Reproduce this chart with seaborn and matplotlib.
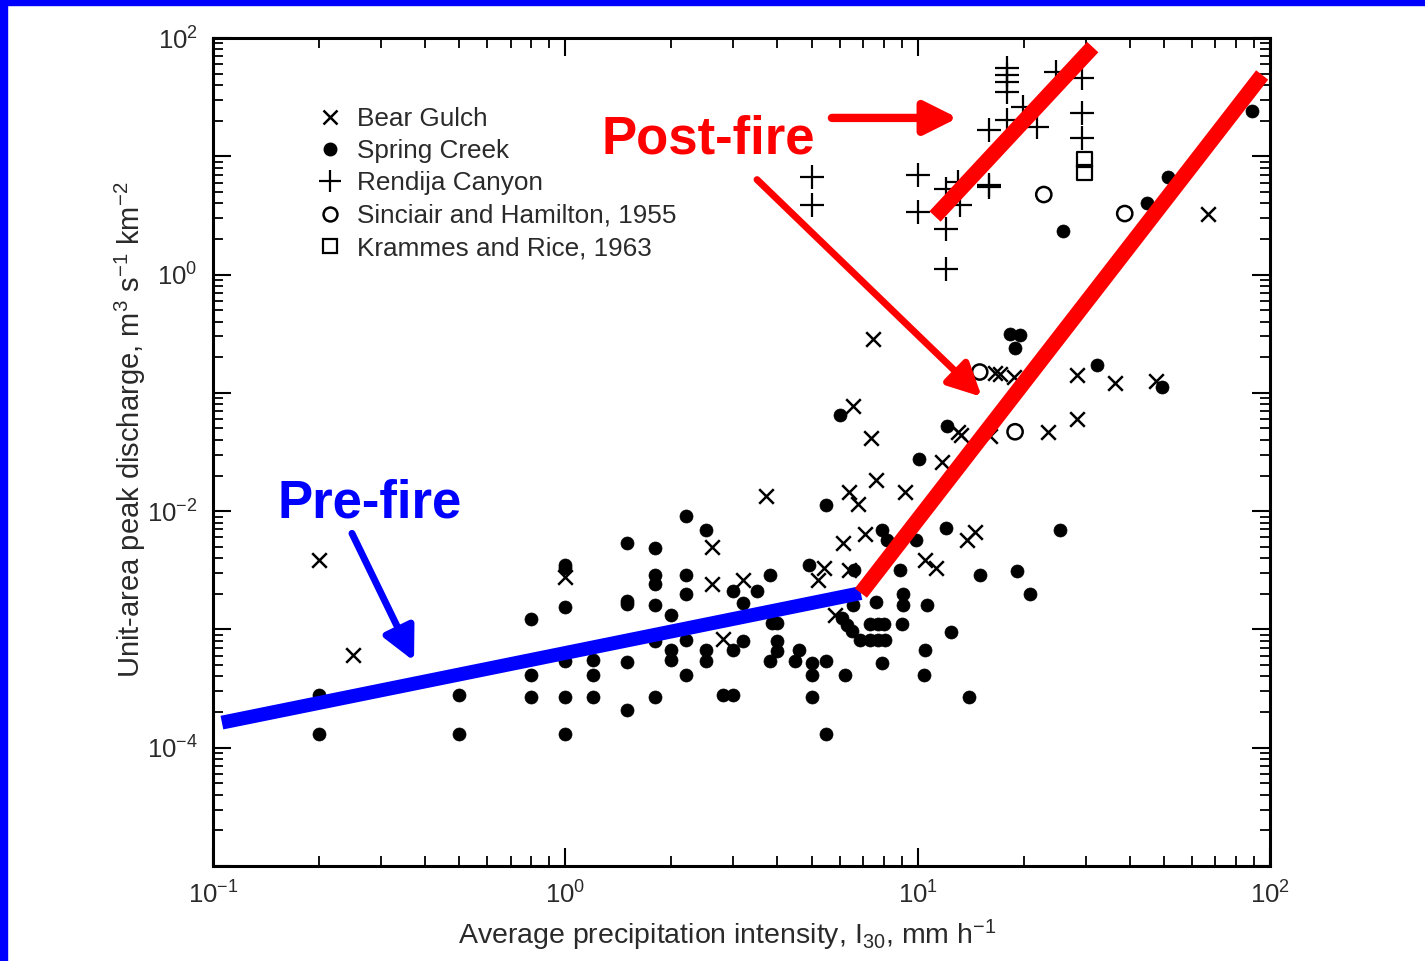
import matplotlib
matplotlib.use("Agg")
import matplotlib.pyplot as plt
import matplotlib.ticker as mticker
from matplotlib.lines import Line2D
from matplotlib.patches import Rectangle
import seaborn as sns
import numpy as np

# ---------------- data ----------------
bear_x = [0.2, 0.25, 1.0, 2.6, 2.6, 3.2, 2.8, 3.7, 7.46, 6.55, 7.36, 6.4, 6.76, 7.61,
          9.2, 6.13, 7.08, 5.42, 5.21, 5.82, 6.4, 11.7, 13.0, 13.3, 10.5, 11.3, 13.8,
          14.5, 16.6, 17.1, 18.8, 23.4, 28.3, 28.3, 36.3, 47.4, 66.7, 16.0]
bear_y = [0.0039, 0.00061, 0.0028, 0.0050, 0.0024, 0.0026, 0.00083, 0.0133, 0.285,
          0.0777, 0.0418, 0.0144, 0.0114, 0.0185, 0.0144, 0.0054, 0.0064, 0.0033,
          0.0026, 0.00132, 0.0032, 0.0262, 0.0469, 0.0443, 0.0039, 0.0033, 0.0057,
          0.0067, 0.147, 0.144, 0.136, 0.0469, 0.142, 0.060, 0.121, 0.126, 3.28, 0.043]

spring_x = [0.2, 0.2, 0.5, 0.5,
            0.8, 0.8, 0.8,
            1.0, 1.0, 1.0, 1.0, 1.0, 1.0,
            1.2, 1.2, 1.2,
            1.5, 1.5, 1.5, 1.5, 1.5,
            1.8, 1.8, 1.8, 1.8, 1.8, 1.8,
            2.0, 2.0, 2.0,
            2.2, 2.2, 2.2, 2.2, 2.2,
            2.5, 2.5, 2.5,
            2.8, 3.0, 3.0, 3.0, 3.5, 3.2, 3.2, 3.8,
            3.85, 4.0, 4.0, 3.98, 3.8, 4.6, 4.5, 5.0, 5.0, 5.0, 4.9, 5.5, 5.5, 6.2, 5.5,
            6.0, 6.6, 7.9, 8.9, 9.1, 9.1, 9.05, 10.6,
            7.3, 7.7, 8.0, 6.85, 7.3, 7.7, 8.1,
            6.5, 6.3, 6.1, 7.6, 6.55, 7.9, 10.4, 10.5, 12.4, 14.0, 15.0, 19.1, 20.8,
            12.0, 25.3, 9.9, 8.2, 10.1, 12.1, 18.3, 19.5, 18.9, 32.3, 49.3,
            25.8, 44.7, 51.3, 88.9]
spring_y = [0.00028, 0.000131, 0.00028, 0.000131,
            0.00122, 0.00041, 0.00027,
            0.0035, 0.0033, 0.00155, 0.00054, 0.00027, 0.000131,
            0.00055, 0.00041, 0.00027,
            0.0054, 0.00173, 0.00164, 0.00053, 0.00021,
            0.0049, 0.0029, 0.0024, 0.00161, 0.0008, 0.00027,
            0.00132, 0.00067, 0.00055,
            0.0091, 0.0029, 0.0020, 0.00081, 0.00041,
            0.0069, 0.00067, 0.00054,
            0.00028, 0.0021, 0.00067, 0.00028, 0.0021, 0.00167, 0.0008, 0.0029,
            0.00113, 0.00113, 0.0008, 0.00066, 0.00054, 0.00067, 0.00054, 0.00052,
            0.00041, 0.00027, 0.0035, 0.00054, 0.0112, 0.00041, 0.000131,
            0.0653, 0.0032, 0.0069, 0.0032, 0.0020, 0.0016, 0.00111, 0.0016,
            0.00111, 0.00111, 0.00111, 0.00081, 0.00081, 0.00081, 0.00081,
            0.00097, 0.00109, 0.00125, 0.0017, 0.0016, 0.00052, 0.00041, 0.00067,
            0.00095, 0.00027, 0.0029, 0.0031, 0.0020,
            0.0072, 0.0069, 0.0057, 0.0057, 0.0278, 0.0527, 0.315, 0.308, 0.239,
            0.172, 0.112,
            2.32, 3.99, 6.73, 24.2]

rendija_x = [5.0, 5.0, 10.0, 10.0, 12.0, 12.0, 12.0, 13.0, 13.2, 15.9, 15.9, 15.9,
             17.9, 17.9, 17.9, 17.9, 17.9, 19.9, 21.8, 24.7, 29.2, 29.2, 29.2]
rendija_y = [6.73, 3.84, 7.0, 3.35, 5.33, 2.45, 1.11, 6.1, 3.91, 16.8, 5.76, 5.54,
             55.8, 48.7, 42.5, 35.0, 20.3, 26.2, 17.7, 51.6, 45.9, 23.3, 14.3]

sinclair_x = [15.0, 18.9, 22.8, 38.7]
sinclair_y = [0.150, 0.0469, 4.75, 3.28]

krammes_x = [29.8, 29.8]
krammes_y = [9.37, 7.28]

legend_labels = ["Bear Gulch", "Spring Creek", "Rendija Canyon",
                 "Sinciair and Hamilton, 1955", "Krammes and Rice, 1963"]

# annotation trend lines (data coords)
prefire_line_x = [0.106, 6.9]
prefire_line_y = [0.000163, 0.00203]
postfire_line_x = [6.9, 95.0]
postfire_line_y = [0.00203, 48.7]
rendija_line_x = [11.2, 31.4]
rendija_line_y = [3.10, 83.8]

# ---------------- style ----------------
sns.set_theme(style="white")
plt.rcParams['font.family'] = ['Liberation Sans', 'DejaVu Sans']
plt.rcParams['mathtext.fontset'] = 'custom'
plt.rcParams['mathtext.rm'] = 'Liberation Sans'
plt.rcParams['mathtext.it'] = 'Liberation Sans:italic'
plt.rcParams['mathtext.bf'] = 'Liberation Sans:bold'

W, H = 1425, 961
fig = plt.figure(figsize=(W / 100, H / 100), dpi=100)
fig.patch.set_facecolor('white')
ax = fig.add_axes([213 / W, 1 - 866 / H, (1270 - 213) / W, (866 - 38) / H])

txt_color = '#2a2a2a'

sns.scatterplot(x=spring_x, y=spring_y, ax=ax, marker='o', s=88, color='black',
                edgecolor='black', linewidth=0.5, zorder=3)
sns.scatterplot(x=bear_x, y=bear_y, ax=ax, marker='x', s=110, color='black',
                linewidth=1.8, zorder=3)
sns.scatterplot(x=rendija_x, y=rendija_y, ax=ax, marker='+', s=280, color='black',
                linewidth=1.6, zorder=3)
sns.scatterplot(x=sinclair_x, y=sinclair_y, ax=ax, marker='o', s=120,
                facecolor='none', edgecolor='black', linewidth=1.8, zorder=3)
sns.scatterplot(x=krammes_x, y=krammes_y, ax=ax, marker='s', s=110,
                facecolor='none', edgecolor='black', linewidth=1.6, zorder=3)

ax.set_xscale('log')
ax.set_yscale('log')
ax.set_xlim(0.1, 100)
ax.set_ylim(1e-5, 100)

# ticks
ax.xaxis.set_major_locator(mticker.LogLocator(base=10, numticks=10))
ax.xaxis.set_minor_locator(mticker.LogLocator(base=10, subs=np.arange(2, 10), numticks=20))
ax.yaxis.set_major_locator(mticker.LogLocator(base=10, numticks=20))
ax.yaxis.set_minor_locator(mticker.LogLocator(base=10, subs=np.arange(2, 10), numticks=40))


def xfmt(v, pos):
    e = int(round(np.log10(v)))
    return r'$10^{%d}$' % e


def yfmt(v, pos):
    e = int(round(np.log10(v)))
    if e % 2 == 0 and e >= -4:
        return r'$10^{%d}$' % e
    return ''


ax.xaxis.set_major_formatter(mticker.FuncFormatter(xfmt))
ax.yaxis.set_major_formatter(mticker.FuncFormatter(yfmt))
ax.xaxis.set_minor_formatter(mticker.NullFormatter())
ax.yaxis.set_minor_formatter(mticker.NullFormatter())

ax.tick_params(which='both', direction='in', top=True, right=True, bottom=True,
               left=True, colors='black', labelcolor=txt_color, labelsize=18.5)
ax.tick_params(which='major', length=13, width=1.5, pad=11)
ax.tick_params(which='minor', length=7, width=1.3)
for sp in ax.spines.values():
    sp.set_linewidth(2.2)
    sp.set_color('black')

ax.set_xlabel(r'Average precipitation intensity, I$_{30}$, mm h$^{-1}$',
              fontsize=20.5, color=txt_color)
ax.set_ylabel(r'Unit-area peak discharge, m$^{3}$ s$^{-1}$ km$^{-2}$',
              fontsize=21, color=txt_color)
ax.xaxis.set_label_coords((727 - 213) / 1057, -(935 - 866) / 828)
ax.yaxis.set_label_coords((130 - 213) / 1057, (866 - 430) / 828)
ax.xaxis.label.set_va('center')
ax.yaxis.label.set_va('center')

# legend
handles = [
    Line2D([], [], marker='x', ls='none', color='black', markersize=10, mew=1.8),
    Line2D([], [], marker='o', ls='none', color='black', markersize=9),
    Line2D([], [], marker='+', ls='none', color='black', markersize=16, mew=1.6),
    Line2D([], [], marker='o', ls='none', mfc='none', mec='black', markersize=10, mew=1.8),
    Line2D([], [], marker='s', ls='none', mfc='none', mec='black', markersize=10, mew=1.6),
]
leg = ax.legend(handles, legend_labels, loc='upper left', bbox_to_anchor=(0.098, 0.917),
                frameon=False, fontsize=18.8, handlelength=1.0, handletextpad=0.55,
                labelspacing=0.32, borderpad=0, borderaxespad=0)
for t in leg.get_texts():
    t.set_color(txt_color)

# trend lines
ax.plot(prefire_line_x, prefire_line_y, color='#0000ff', lw=10, solid_capstyle='butt', zorder=5)
ax.plot(postfire_line_x, postfire_line_y, color='#ff0000', lw=11, solid_capstyle='butt', zorder=6)
ax.plot(rendija_line_x, rendija_line_y, color='#ff0000', lw=11, solid_capstyle='butt', zorder=6)

# arrows and labels
ax.annotate('', xy=(0.372, 0.00054), xytext=(0.248, 0.00649),
            arrowprops=dict(arrowstyle='-|>,head_length=0.8,head_width=0.4', lw=5,
                            color='#0000ff', mutation_scale=25, shrinkA=0, shrinkB=0),
            zorder=7)
ax.annotate('', xy=(13.0, 21.1), xytext=(5.71, 21.1),
            arrowprops=dict(arrowstyle='-|>,head_length=0.8,head_width=0.4', lw=6,
                            color='#ff0000', mutation_scale=25, shrinkA=0, shrinkB=0),
            zorder=7)
ax.annotate('', xy=(15.2, 0.0925), xytext=(3.50, 6.35),
            arrowprops=dict(arrowstyle='-|>,head_length=0.8,head_width=0.4', lw=5,
                            color='#ff0000', mutation_scale=25, shrinkA=0, shrinkB=0),
            zorder=7)
ax.text(0.279, 0.0116, 'Pre-fire', color='#0000ff', fontsize=38, fontweight='bold',
        ha='center', va='center', zorder=8)
ax.text(2.54, 13.8, 'Post-fire', color='#ff0000', fontsize=38, fontweight='bold',
        ha='center', va='center', zorder=8)

# blue frame of the slide (top and left edges)
fig.patches.append(Rectangle((0, 1 - 5 / H), 1, 5 / H, transform=fig.transFigure,
                             color='#0000ff', zorder=10))
fig.patches.append(Rectangle((0, 0), 7 / W, 1, transform=fig.transFigure,
                             color='#0000ff', zorder=10))

fig.savefig('out.png', dpi=100, facecolor='white')
